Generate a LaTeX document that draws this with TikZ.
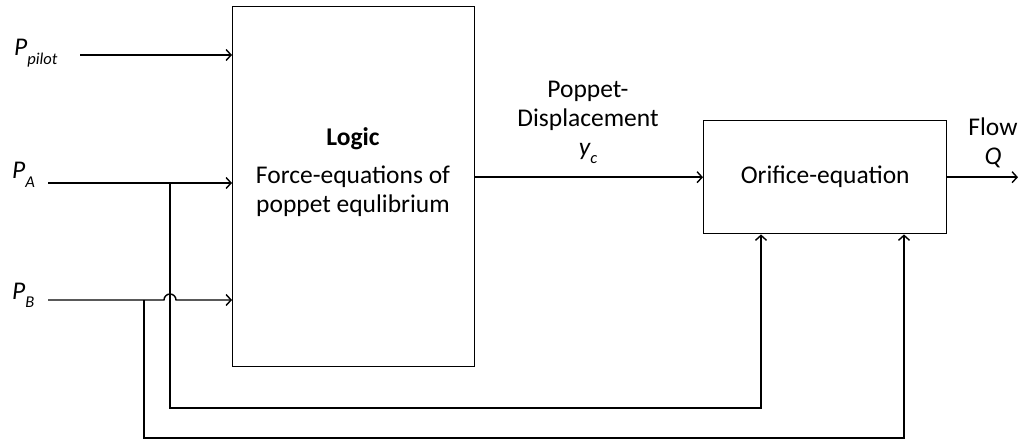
\documentclass[tikz,border=0pt]{standalone}
\usepackage{fontspec}
\setmainfont{Carlito}
\usetikzlibrary{arrows.meta}
\newcommand{\lbl}[2]{{\itshape #1\raisebox{-0.32em}{\fontsize{16.5}{16.5}\selectfont #2}}}
\begin{document}
\begin{tikzpicture}[x=1pt,y=-1pt,
  every node/.style={font=\fontsize{25.5}{29}\selectfont},
  blk/.style={draw, line width=1.4pt, inner sep=0pt, anchor=north west},
  wire/.style={line width=1.4pt},
  arr/.style={wire, -{Straight Barb[length=5pt,width=11pt]}},
  txt/.style={align=center, inner sep=0pt}]
\useasboundingbox (0,0) rectangle (1029,441);
\fill[white] (0,0) rectangle (1029,441);
% blocks
\node[blk, minimum width=242pt, minimum height=360pt] (logic) at (232,6) {};
\node[blk, minimum width=243pt, minimum height=113pt] (orifice) at (703,120) {};
\node[txt] (orit) at (orifice.center) {Orifice-equation};
% texts
\node[txt, font=\fontsize{25.5}{29}\bfseries\selectfont] (logict) at (353,139) {Logic};
\node[txt] (forcet) at (353,191) {Force-equations of\\poppet equlibrium};
\node[txt] (disp) at (588,122) {Poppet-\\Displacement\\\lbl{y}{c}};
\node[txt] (flow) at (993,143) {Flow\\\itshape Q};
\node[anchor=base west, inner sep=0pt] (pp) at (14,56) {\lbl{P}{pilot}};
\node[anchor=base west, inner sep=0pt] (pa) at (12,179) {\lbl{P}{A}};
\node[anchor=base west, inner sep=0pt] (pb) at (12,299) {\lbl{P}{B}};
% coordinates
\coordinate (ppS) at (80,55);
\coordinate (paS) at (48,183);
\coordinate (pbS) at (48,300);
\coordinate (ja) at (170,183);
\coordinate (jb) at (144,300);
\coordinate (hop) at (164,300);
\coordinate (ca) at (170,408);
\coordinate (cb) at (144,438);
\coordinate (fend) at (1018,0);
% connectors
\draw[arr] (ppS) -- (ppS -| logic.west);
\draw[arr] (paS) -- (paS -| logic.west);
\draw[arr] (pbS) -- (hop) arc[start angle=180, end angle=0, radius=6pt] -- (pbS -| logic.west);
\draw[arr] (ja) -- (ca) -- (ca -| 761,0) -- (orifice.south -| 761,0);
\draw[arr] (jb) -- (cb) -- (cb -| 904,0) -- (orifice.south -| 904,0);
\draw[arr] (orifice.west -| logic.east) -- (orifice.west);
\draw[arr] (orifice.east) -- (orifice.east -| fend);
\end{tikzpicture}
\end{document}
